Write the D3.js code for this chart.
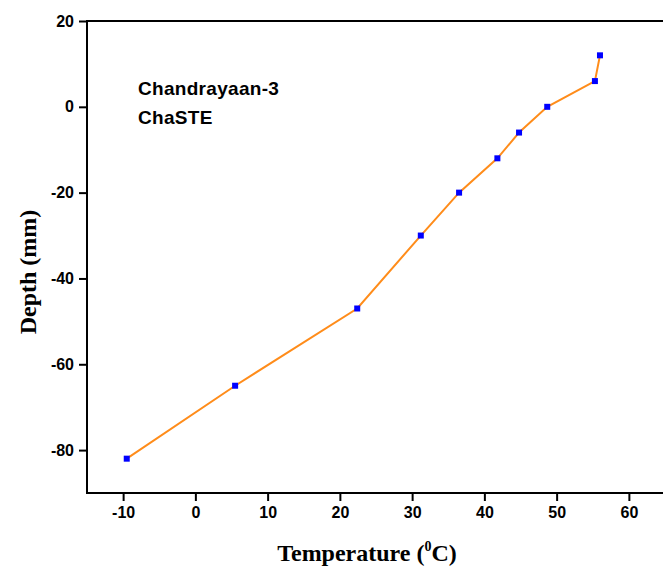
<!DOCTYPE html>
<meta charset='utf-8'>

<style>
    body { margin: 0; background: #fff; }
    .tick text { font-family: "Liberation Sans", Arial, sans-serif; font-weight: bold; font-size: 16px; fill: #000; }
    .axis path, .axis line { stroke: #000; stroke-width: 2; }
    .title { font-family: "Liberation Serif", "Times New Roman", serif; font-weight: bold; font-size: 24px; }
    .note { font-family: "Liberation Sans", Arial, sans-serif; font-weight: bold; font-size: 19px; letter-spacing: 0.3px; }
</style>

<svg width="663" height="567"></svg>

<script src="https://d3js.org/d3.v7.min.js"></script>

<script>

// readings
var temperature = [-9.5, 5.5, 22.4, 31.2, 36.5, 41.8, 44.8, 48.7, 55.3, 56.0];
var depth = [-82, -65, -47, -30, -20, -12, -6, 0, 6, 12];
var xTicks = [-10, 0, 10, 20, 30, 40, 50, 60];
var yTicks = [20, 0, -20, -40, -60, -80];

var svg = d3.select("svg");

var x = d3.scaleLinear().domain([-15, 65]).range([87, 665]);
var y = d3.scaleLinear().domain([-90, 20]).range([493, 21]);

// frame (right side runs off the picture)
svg.append("rect")
  .attr("x", x(-15))
  .attr("y", y(20))
  .attr("width", x(65) - x(-15))
  .attr("height", y(-90) - y(20))
  .attr("fill", "none")
  .attr("stroke", "#000")
  .attr("stroke-width", 2);

svg.append("g")
  .attr("class", "axis")
  .attr("transform", "translate(0," + y(-90) + ")")
  .call(d3.axisBottom(x).tickValues(xTicks).tickFormat(d => String(d)).tickSize(8).tickPadding(6).tickSizeOuter(0))
  .call(g => g.select(".domain").remove());

svg.append("g")
  .attr("class", "axis")
  .attr("transform", "translate(" + x(-15) + ",0)")
  .call(d3.axisLeft(y).tickValues(yTicks).tickFormat(d => String(d)).tickSize(8).tickPadding(5).tickSizeOuter(0))
  .call(g => g.select(".domain").remove());

var pts = temperature.map((t, i) => [t, depth[i]]);

svg.append("path")
  .datum(pts)
  .attr("fill", "none")
  .attr("stroke", "#ff8c1a")
  .attr("stroke-width", 2)
  .attr("d", d3.line().x(d => x(d[0])).y(d => y(d[1])));

svg.selectAll(".pt")
  .data(pts)
  .enter()
  .append("rect")
  .attr("class", "pt")
  .attr("x", d => x(d[0]) - 3)
  .attr("y", d => y(d[1]) - 3)
  .attr("width", 6)
  .attr("height", 6)
  .attr("fill", "#0000ff");

// labels
var xt = svg.append("text")
  .attr("class", "title")
  .attr("x", 367)
  .attr("y", 561)
  .attr("font-size", "25px")
  .attr("text-anchor", "middle");
xt.append("tspan").text("Temperature (");
xt.append("tspan").attr("font-size", "14px").attr("dy", -10).text("0");
xt.append("tspan").attr("dy", 10).text("C)");

svg.append("text")
  .attr("class", "title")
  .attr("transform", "translate(36,272) rotate(-90)")
  .attr("text-anchor", "middle")
  .text("Depth (mm)");

svg.append("text").attr("class", "note").attr("x", 138).attr("y", 95).text("Chandrayaan-3");
svg.append("text").attr("class", "note").attr("x", 138).attr("y", 124).text("ChaSTE");

</script>
